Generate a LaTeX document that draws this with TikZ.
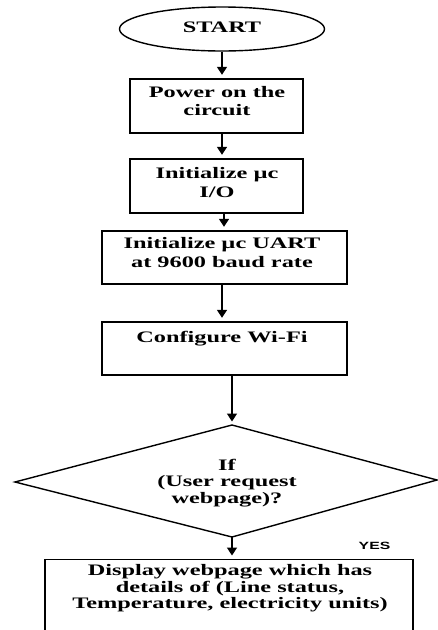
\documentclass[tikz,border=0pt]{standalone}
\usepackage{fontspec}
\setmainfont{Liberation Serif}[FakeStretch=1.52]
\newfontfamily\yesfont{Liberation Sans}[FakeStretch=1.5]
\usetikzlibrary{shapes.geometric,arrows.meta}
\begin{document}
\begin{tikzpicture}[x=1pt,y=-1pt,
  line width=1.4pt,
  box/.style={draw,rectangle,inner sep=0pt},
  txt/.style={align=center,inner sep=0pt,font=\fontsize{16}{18.5}\selectfont\bfseries},
  txtb/.style={align=center,inner sep=0pt,font=\fontsize{16}{16.5}\selectfont\bfseries},
  flow/.style={-{Triangle[width=10pt,length=8pt]},shorten >=3.5pt,line width=1.5pt}]
\useasboundingbox (0,0) rectangle (438,630);
\clip (0,0) rectangle (438,630);
% start
\node[draw,ellipse,minimum width=205pt,minimum height=44pt,inner sep=0pt] (s) at (222,29) {};
\node[txt] (ts) at (222,27) {START};
% boxes
\node[box,minimum width=173pt,minimum height=54pt] (b1) at (216.5,106) {};
\node[txt] (t1) at (217,101) {Power on the\\circuit};
\node[box,minimum width=173pt,minimum height=54pt] (b2) at (216.5,186) {};
\node[txt] (t2) at (217,182.5) {Initialize µc\\I/O};
\node[box,minimum width=245pt,minimum height=53pt] (b3) at (224.5,257.5) {};
\node[txt] (t3) at (222,252.5) {Initialize µc UART\\at 9600 baud rate};
\node[box,minimum width=245pt,minimum height=53pt] (b4) at (224.5,348.5) {};
\node[txt] (t4) at (222,339) {Configure Wi-Fi};
% decision
\coordinate (dt) at (232,425);
\coordinate (dl) at (15,482);
\coordinate (dr) at (437,480);
\coordinate (db) at (232,537);
\draw (dt) -- (dr) -- (db) -- (dl) -- cycle;
\node[txtb] (td) at (227,483) {If\\(User request\\webpage)?};
% display box
\node[box,minimum width=368pt,minimum height=100pt,anchor=north] (b5) at (229,559) {};
\node[txtb] (t5) at (230,588.5) {Display webpage which has\\details of (Line status,\\Temperature, electricity units)};
\node[inner sep=0pt,font=\fontsize{10.5}{12}\selectfont\yesfont\bfseries] (yes) at (374.5,546) {YES};
% connectors
\draw[flow] (s.south) -- (b1.north -| s.south);
\draw[flow] (b1.south -| s.south) -- (b2.north -| s.south);
\draw[flow] ([xshift=2pt]b2.south -| s.south) -- ([xshift=2pt]b3.north -| s.south);
\draw[flow] (b3.south -| s.south) -- (b4.north -| s.south);
\draw[flow] (b4.south -| dt) -- (dt);
\draw[flow] (db) -- (b5.north -| db);
\end{tikzpicture}
\end{document}
